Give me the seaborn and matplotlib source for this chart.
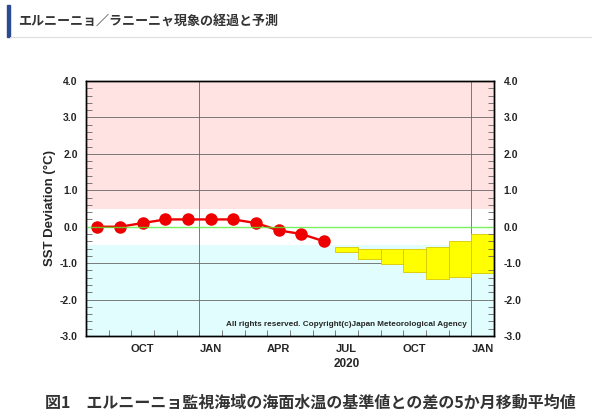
import pandas as pd
import matplotlib.pyplot as plt
import seaborn as sns
import numpy as np

# observed 5-month running mean of SST deviation (Nino.3), deg C
obs_months = ["2019-08", "2019-09", "2019-10", "2019-11", "2019-12", "2020-01",
              "2020-02", "2020-03", "2020-04", "2020-05", "2020-06"]
obs_values = [0.0, 0.0, 0.1, 0.2, 0.2, 0.2, 0.2, 0.1, -0.1, -0.2, -0.4]

# forecast range (70% boxes)
fc_months = ["2020-07", "2020-08", "2020-09", "2020-10", "2020-11", "2020-12", "2021-01"]
fc_upper = [-0.55, -0.62, -0.6, -0.61, -0.55, -0.39, -0.21]
fc_lower = [-0.7, -0.88, -1.02, -1.25, -1.43, -1.39, -1.27]

tick_months = ["2019-10", "2020-01", "2020-04", "2020-07", "2020-10", "2021-01"]
tick_labels = ["OCT", "JAN", "APR", "JUL", "OCT", "JAN"]

start = pd.Period("2019-08", freq="M")
n_months = 18


def month_idx(m):
    return (pd.Period(m, freq="M") - start).n


df = pd.DataFrame({"x": [month_idx(m) + 0.5 for m in obs_months], "sst": obs_values})
fc = pd.DataFrame({"x": [month_idx(m) for m in fc_months], "lo": fc_lower, "hi": fc_upper})

sns.set_style("ticks")
plt.rcParams['font.family'] = ['Liberation Sans', 'DejaVu Sans']

fig = plt.figure(figsize=(5.92, 4.2), dpi=100)
ax = fig.add_axes([86 / 592, 84 / 420, 408 / 592, 255 / 420])

# background bands
ax.axhspan(0.5, 4.0, color="#ffe2e2", zorder=0, lw=0)
ax.axhspan(-3.0, -0.5, color="#e2fdfd", zorder=0, lw=0)

for yv in [3, 2, 1, -1, -2]:
    ax.axhline(yv, color="#666666", lw=0.6, zorder=1)
for m in ["2020-01", "2021-01"]:
    ax.axvline(month_idx(m), color="#666666", lw=0.6, zorder=1)

# forecast boxes
ax.bar(fc["x"], fc["hi"] - fc["lo"], bottom=fc["lo"], width=1.0, align="edge",
       color="#ffff00", edgecolor="#d8c800", lw=0.6, zorder=2)

sns.lineplot(data=df, x="x", y="sst", ax=ax, color="#ee0000", lw=1.7,
             marker="o", markersize=9, markeredgewidth=0, zorder=3)
ax.axhline(0, color="#55ee33", lw=1.0, zorder=4, alpha=0.8)

ax.set_xlim(0, n_months)
ax.set_ylim(-3, 4)
ax.set_xticks([month_idx(m) + 0.5 for m in tick_months])
ax.set_xticklabels(tick_labels, fontsize=8, fontweight="bold")
ax.set_xticks(np.arange(1, n_months), minor=True)
ax.tick_params(axis="x", which="major", length=0, pad=6)
ax.tick_params(axis="x", which="minor", direction="in", length=4, width=0.6, color="#666666")

yt = np.arange(-3, 5)
ylabels = [f"{v:.1f}" for v in yt]
ax.set_yticks(yt)
ax.set_yticklabels(ylabels, fontsize=7.5, fontweight="bold")
ax.set_yticks(np.arange(-3, 4.01, 0.2), minor=True)
ax.tick_params(axis="y", which="major", direction="in", length=0, pad=6)
ax.tick_params(axis="y", which="minor", direction="in", length=4, width=0.6, color="#666666")
ax.set_xlabel("")
ax.set_ylabel("SST Deviation (°C)", fontsize=9.5, fontweight="bold", labelpad=3)

ax2 = ax.twinx()
ax2.set_ylim(-3, 4)
ax2.set_yticks(yt)
ax2.set_yticklabels(ylabels, fontsize=7.5, fontweight="bold")
ax2.set_yticks(np.arange(-3, 4.01, 0.2), minor=True)
ax2.tick_params(axis="y", which="major", direction="in", length=0, pad=7)
ax2.tick_params(axis="y", which="minor", direction="in", length=4, width=0.6, color="#666666")

for a in (ax, ax2):
    for s in a.spines.values():
        s.set_color("black")
        s.set_linewidth(1.0)

ax.annotate("2020", xy=(month_idx("2020-07") + 0.5, -3.0), xytext=(0, -16),
            textcoords="offset points", ha="center", va="top",
            fontsize=8.5, fontweight="bold")

ax.text(0.934, 0.03, "All rights reserved. Copyright(c)Japan Meteorological Agency",
        transform=ax.transAxes, ha="right", va="bottom", fontsize=5.9, fontweight="bold")

# page header and caption
cjk = ['Noto Sans CJK JP', 'DejaVu Sans']
fig.patches.append(plt.Rectangle((7 / 592, 1 - 37 / 420), 3 / 592, 32 / 420,
                                 transform=fig.transFigure, color="#2b4a8f"))
fig.lines.append(plt.Line2D([10 / 592, 1], [1 - 37 / 420, 1 - 37 / 420],
                            transform=fig.transFigure, color="#dddddd", lw=0.8))
fig.text(18 / 592, 1 - 21 / 420, "エルニーニョ／ラニーニャ現象の経過と予測",
         family=cjk, fontsize=9.4, fontweight="bold", color="#333333", va="center")
fig.text(0.525, 1 - 403 / 420, "図1\u3000エルニーニョ監視海域の海面水温の基準値との差の5か月移動平均値",
         family=cjk, fontsize=11.5, fontweight="bold", color="#333333",
         ha="center", va="center")

fig.savefig("out.png", dpi=100)
